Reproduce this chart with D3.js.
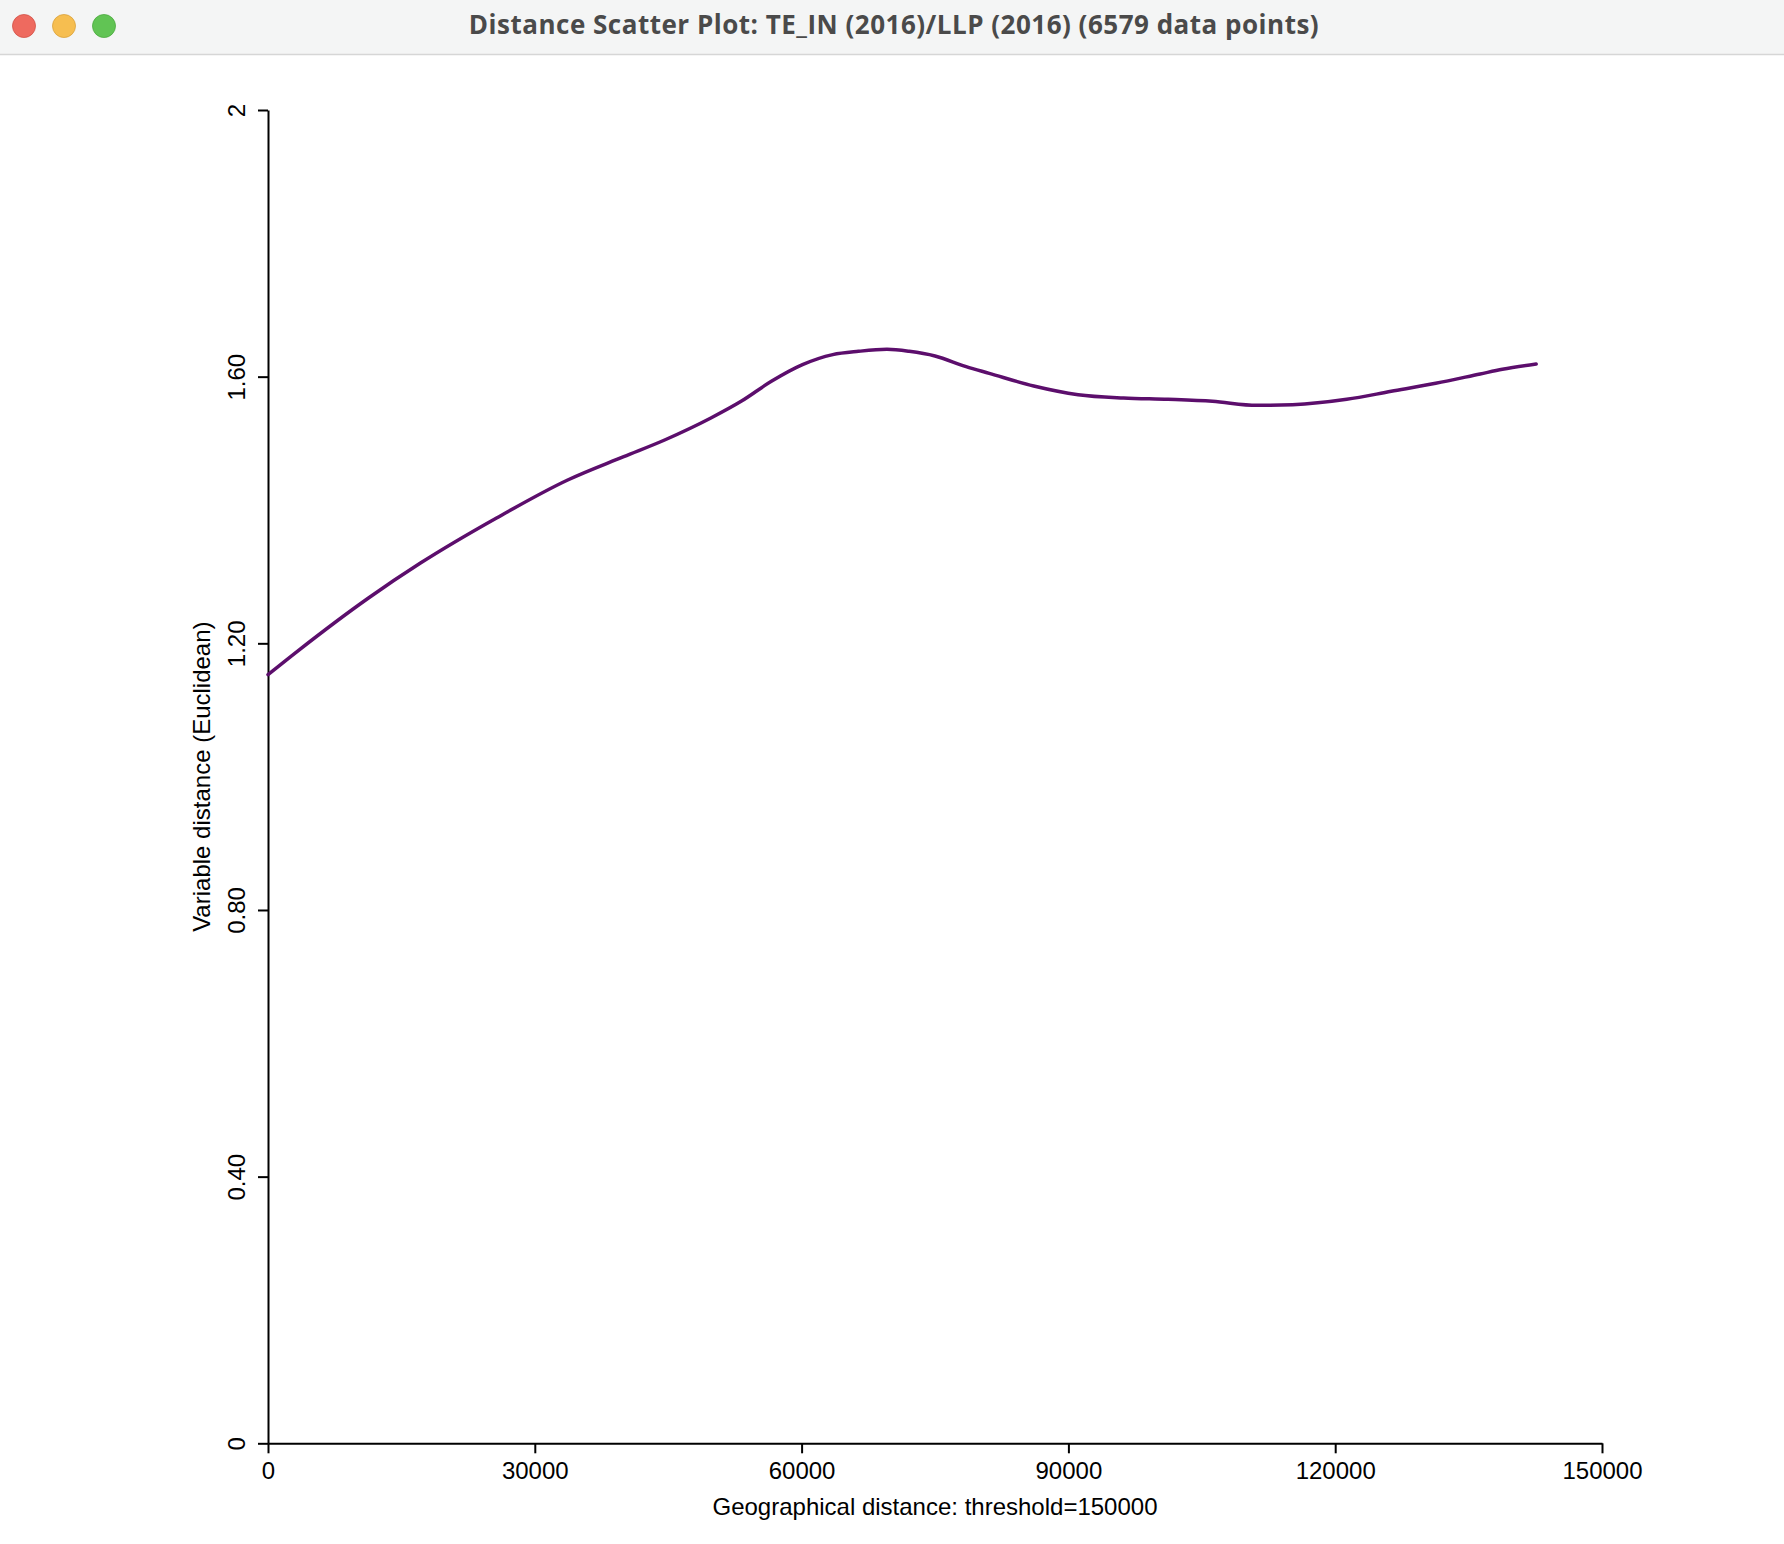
<!DOCTYPE html>
<html>
<head>
<meta charset="utf-8">
<script src="https://cdn.jsdelivr.net/npm/d3@7"></script>
<style>
  html, body { margin: 0; padding: 0; background: #fff; }
  svg { display: block; }
</style>
</head>
<body>
<script>
// ---- data ----
const windowTitle = "Distance Scatter Plot: TE_IN (2016)/LLP (2016) (6579 data points)";
const xTitle = "Geographical distance: threshold=150000";
const yTitle = "Variable distance (Euclidean)";
const xTicks = [0, 30000, 60000, 90000, 120000, 150000];
const xTickLabels = ["0", "30000", "60000", "90000", "120000", "150000"];
const yTicks = [0, 0.4, 0.8, 1.2, 1.6, 2];
const yTickLabels = ["0", "0.40", "0.80", "1.20", "1.60", "2"];
const geoDistance = [0, 3300, 11300, 17100, 25700, 33700, 40000, 44600, 49800, 53200, 56600, 60100,
  63500, 66400, 69600, 72100, 75000, 78500, 81100, 86100, 91100, 96200, 101200, 106200, 111200,
  115200, 121300, 126300, 131300, 136300, 138800, 142600];
const varDistance = [1.153, 1.188, 1.268, 1.320, 1.388, 1.445, 1.480, 1.505, 1.538, 1.563, 1.593, 1.618,
  1.633, 1.638, 1.641, 1.638, 1.631, 1.615, 1.605, 1.586, 1.573, 1.568, 1.566, 1.563, 1.557,
  1.558, 1.566, 1.578, 1.590, 1.604, 1.611, 1.619];

// ---- layout ----
const W = 1784, H = 1544;
const svg = d3.select("body").append("svg").attr("width", W).attr("height", H);

// title bar
svg.append("rect").attr("x", 0).attr("y", 0).attr("width", W).attr("height", 54).attr("fill", "#f4f5f5");
svg.append("line").attr("x1", 0).attr("x2", W).attr("y1", 54.5).attr("y2", 54.5)
  .attr("stroke", "#d6d6d6").attr("stroke-width", 1.5);
const lights = [["#ee6a5f", "#d25248"], ["#f6be50", "#d9a23c"], ["#61c454", "#4ba93f"]];
svg.selectAll("circle.light").data(lights).enter().append("circle")
  .attr("class", "light")
  .attr("cx", (d, i) => 24 + i * 40).attr("cy", 26).attr("r", 11.5)
  .attr("fill", d => d[0]).attr("stroke", d => d[1]).attr("stroke-width", 0.8);
svg.append("text").attr("x", 894).attr("y", 34).attr("text-anchor", "middle")
  .attr("font-family", "'Open Sans', 'Noto Sans', sans-serif").attr("font-weight", "bold")
  .attr("font-size", 26).attr("letter-spacing", 0.5).attr("fill", "#4a4a4a").text(windowTitle);

// scales
const x = d3.scaleLinear().domain([0, 150000]).range([268, 1602]);
const y = d3.scaleLinear().domain([0, 2]).range([1443.3, 110]);

const font = "'Liberation Sans', Arial, Helvetica, sans-serif";
const fs = 24;

// x axis
const gx = svg.append("g").attr("transform", `translate(0,${y(0)})`)
  .call(d3.axisBottom(x).tickValues(xTicks).tickFormat((d, i) => xTickLabels[i])
    .tickSize(10).tickSizeOuter(0).tickPadding(9));
gx.selectAll("path, line").attr("stroke", "#000").attr("stroke-width", 2);
gx.selectAll("text").attr("font-family", font).attr("font-size", fs).attr("fill", "#000");

// y axis
const gy = svg.append("g").attr("transform", `translate(${x(0)},0)`)
  .call(d3.axisLeft(y).tickValues(yTicks).tickFormat((d, i) => yTickLabels[i])
    .tickSize(10).tickSizeOuter(0));
gy.selectAll("path, line").attr("stroke", "#000").attr("stroke-width", 2);
gy.selectAll("text").attr("font-family", font).attr("font-size", fs).attr("fill", "#000")
  .attr("x", 0).attr("y", -23).attr("dy", 0).attr("text-anchor", "middle")
  .attr("transform", "rotate(-90)");

// axis titles
svg.append("text").attr("x", (x(0) + x(150000)) / 2).attr("y", 1515)
  .attr("text-anchor", "middle").attr("font-family", font).attr("font-size", fs)
  .attr("fill", "#000").text(xTitle);
svg.append("text")
  .attr("transform", `translate(210,${(y(0) + y(2)) / 2}) rotate(-90)`)
  .attr("text-anchor", "middle").attr("font-family", font).attr("font-size", fs)
  .attr("fill", "#000").text(yTitle);

// curve
const pts = geoDistance.map((d, i) => [d, varDistance[i]]);
const line = d3.line().x(d => x(d[0])).y(d => y(d[1])).curve(d3.curveMonotoneX);
svg.append("path").datum(pts).attr("d", line)
  .attr("fill", "none").attr("stroke", "#5c0e6c").attr("stroke-width", 3.5)
  .attr("stroke-linecap", "round").attr("stroke-linejoin", "round");
</script>
</body>
</html>
